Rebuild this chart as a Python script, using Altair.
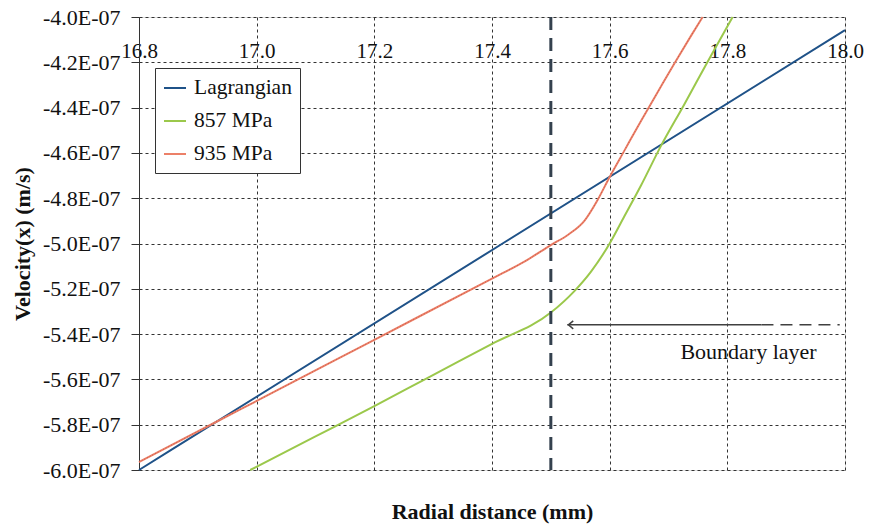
import altair as alt
import pandas as pd

# ---- data (velocities in units of 1E-07 m/s) ----
series_names = ["Lagrangian", "857 MPa", "935 MPa"]
series_colors = ["#1F5288", "#9BC84B", "#EC8068"]

lag_x = [16.8, 17.418, 18.0]
lag_v = [-6.0, -5.0, -4.058]

g857_x = [16.989, 17.1, 17.2, 17.29, 17.4, 17.5, 17.54, 17.568, 17.6,
          17.625, 17.653, 17.687, 17.727, 17.767, 17.809]
g857_v = [-6.0, -5.852, -5.718, -5.594, -5.443, -5.305, -5.21, -5.125, -5.0,
          -4.88, -4.745, -4.57, -4.385, -4.195, -4.0]

o935_x = [16.8, 16.939, 17.0, 17.2, 17.4, 17.455, 17.5, 17.53, 17.557, 17.579, 17.6,
          17.625, 17.653, 17.682, 17.71, 17.739, 17.758]
o935_v = [-5.965, -5.777, -5.695, -5.425, -5.155, -5.08, -5.007, -4.96, -4.90, -4.81, -4.706,
          -4.59, -4.46, -4.33, -4.205, -4.08, -4.0]

x_ticks = [16.8, 17.0, 17.2, 17.4, 17.6, 17.8, 18.0]
y_ticks = [-4.0, -4.2, -4.4, -4.6, -4.8, -5.0, -5.2, -5.4, -5.6, -5.8, -6.0]

boundary_x = 17.5
arrow_x = [17.528, 17.858, 17.991]   # head, end of solid part, end of dashed part
arrow_v = -5.359
label_text = "Boundary layer"
label_x = 17.836
label_v = -5.511

SCALE = 1e-7
FONT = "Liberation Serif"

rows = []
for name, xs, vs in [(series_names[0], lag_x, lag_v),
                     (series_names[1], g857_x, g857_v),
                     (series_names[2], o935_x, o935_v)]:
    for i, (x, v) in enumerate(zip(xs, vs)):
        rows.append({"series": name, "x": x, "v": v * SCALE, "i": i})
df = pd.DataFrame(rows)

PLOT_W = 706
PLOT_H = 453

x_scale = alt.Scale(domain=[16.8, 18.0], nice=False, zero=False)
y_scale = alt.Scale(domain=[-6.0 * SCALE, -4.0 * SCALE], nice=False, zero=False)

x_axis = alt.Axis(
    orient="top", values=x_ticks, format=".1f", grid=True, gridDash=[3, 3],
    gridColor="#333333", gridWidth=1, ticks=False, tickSize=0, domain=False,
    labelPadding=-40, labelBaseline="alphabetic", labelAlign="center",
    labelFlush=False, labelOverlap=False, labelFont=FONT, labelFontSize=21,
    labelColor="#111111",
    title="Radial distance (mm)", titleFont=FONT, titleFontSize=22,
    titleFontWeight="bold", titleColor="#111111", titleY=501,
    titleBaseline="alphabetic",
)
y_axis = alt.Axis(
    orient="left", values=[v * SCALE for v in y_ticks],
    labelExpr="'-' + format(abs(datum.value) * 1e7, '.1f') + 'E-07'",
    grid=True, gridDash=[3, 3], gridColor="#333333", gridWidth=1,
    ticks=True, tickSize=8, tickColor="#333333", domain=True, domainColor="#333333",
    labelPadding=11, labelFont=FONT, labelFontSize=22, labelColor="#111111",
    labelOverlap=False, labelFlush=False,
    title="Velocity(x) (m/s)", titleFont=FONT, titleFontSize=22,
    titleFontWeight="bold", titleColor="#111111", titleX=-117, titleY=PLOT_H / 2,
    titleAngle=-90, titleBaseline="middle", titleAlign="center",
)

base = alt.Chart(df)

lines = base.mark_line(interpolate="monotone").encode(
    x=alt.X("x:Q", scale=x_scale, axis=x_axis),
    y=alt.Y("v:Q", scale=y_scale, axis=y_axis),
    color=alt.Color(
        "series:N",
        scale=alt.Scale(domain=series_names, range=series_colors),
        sort=series_names,
        legend=alt.Legend(
            orient="none", legendX=16, legendY=51, title=None,
            strokeColor="#333333", fillColor="white", padding=8, rowPadding=10,
            labelFont=FONT, labelFontSize=21.5, labelColor="#111111", labelOffset=7,
            symbolType="stroke", symbolSize=484, symbolStrokeWidth=2.5,
        ),
    ),
    strokeWidth=alt.StrokeWidth(
        "series:N", scale=alt.Scale(domain=series_names, range=[2, 2, 3.5]), legend=None
    ),
    order="i:Q",
)

orange_dots = alt.Chart(df[df.series == series_names[2]]).mark_line(
    interpolate="monotone", color="#B8463A", strokeWidth=1, strokeDash=[1, 2], opacity=0.7
).encode(x="x:Q", y="v:Q", order="i:Q")

boundary = alt.Chart(pd.DataFrame({"x": [boundary_x]})).mark_rule(
    color="#34414E", strokeWidth=3, strokeDash=[13, 8]
).encode(x="x:Q")

arrow_df = pd.DataFrame({
    "x": [arrow_x[0], arrow_x[1]], "x2": [arrow_x[1], arrow_x[2]],
    "v": [arrow_v * SCALE, arrow_v * SCALE], "part": ["solid", "dashed"],
})
arrow_solid = alt.Chart(arrow_df[arrow_df.part == "solid"]).mark_rule(
    color="#404040", strokeWidth=1.5
).encode(x="x:Q", x2="x2:Q", y="v:Q")
arrow_dashed = alt.Chart(arrow_df[arrow_df.part == "dashed"]).mark_rule(
    color="#404040", strokeWidth=1.5, strokeDash=[12, 7]
).encode(x="x:Q", x2="x2:Q", y="v:Q")
arrow_head = alt.Chart(pd.DataFrame({"x": [arrow_x[0] + 0.006], "v": [arrow_v * SCALE]})).mark_point(
    shape="M0.6,-1L-0.6,0L0.6,1", size=64, filled=False, color="#404040", strokeWidth=1.5, opacity=1
).encode(x="x:Q", y="v:Q")

label = alt.Chart(pd.DataFrame({"x": [label_x], "v": [label_v * SCALE], "t": [label_text]})).mark_text(
    font=FONT, fontSize=22, color="#111111", align="center", baseline="alphabetic"
).encode(x="x:Q", y="v:Q", text="t:N")

chart = alt.layer(
    lines, orange_dots, boundary, arrow_solid, arrow_dashed, arrow_head, label
).properties(
    width=PLOT_W, height=PLOT_H,
    autosize=alt.AutoSizeParams(type="none"),
    padding={"left": 131, "top": 9, "right": 19, "bottom": 55},
).configure_view(
    stroke="#333333", strokeWidth=1, fill="white"
).configure(background="white")

chart.save("out.html", embed_options={"renderer": "svg", "actions": False})
